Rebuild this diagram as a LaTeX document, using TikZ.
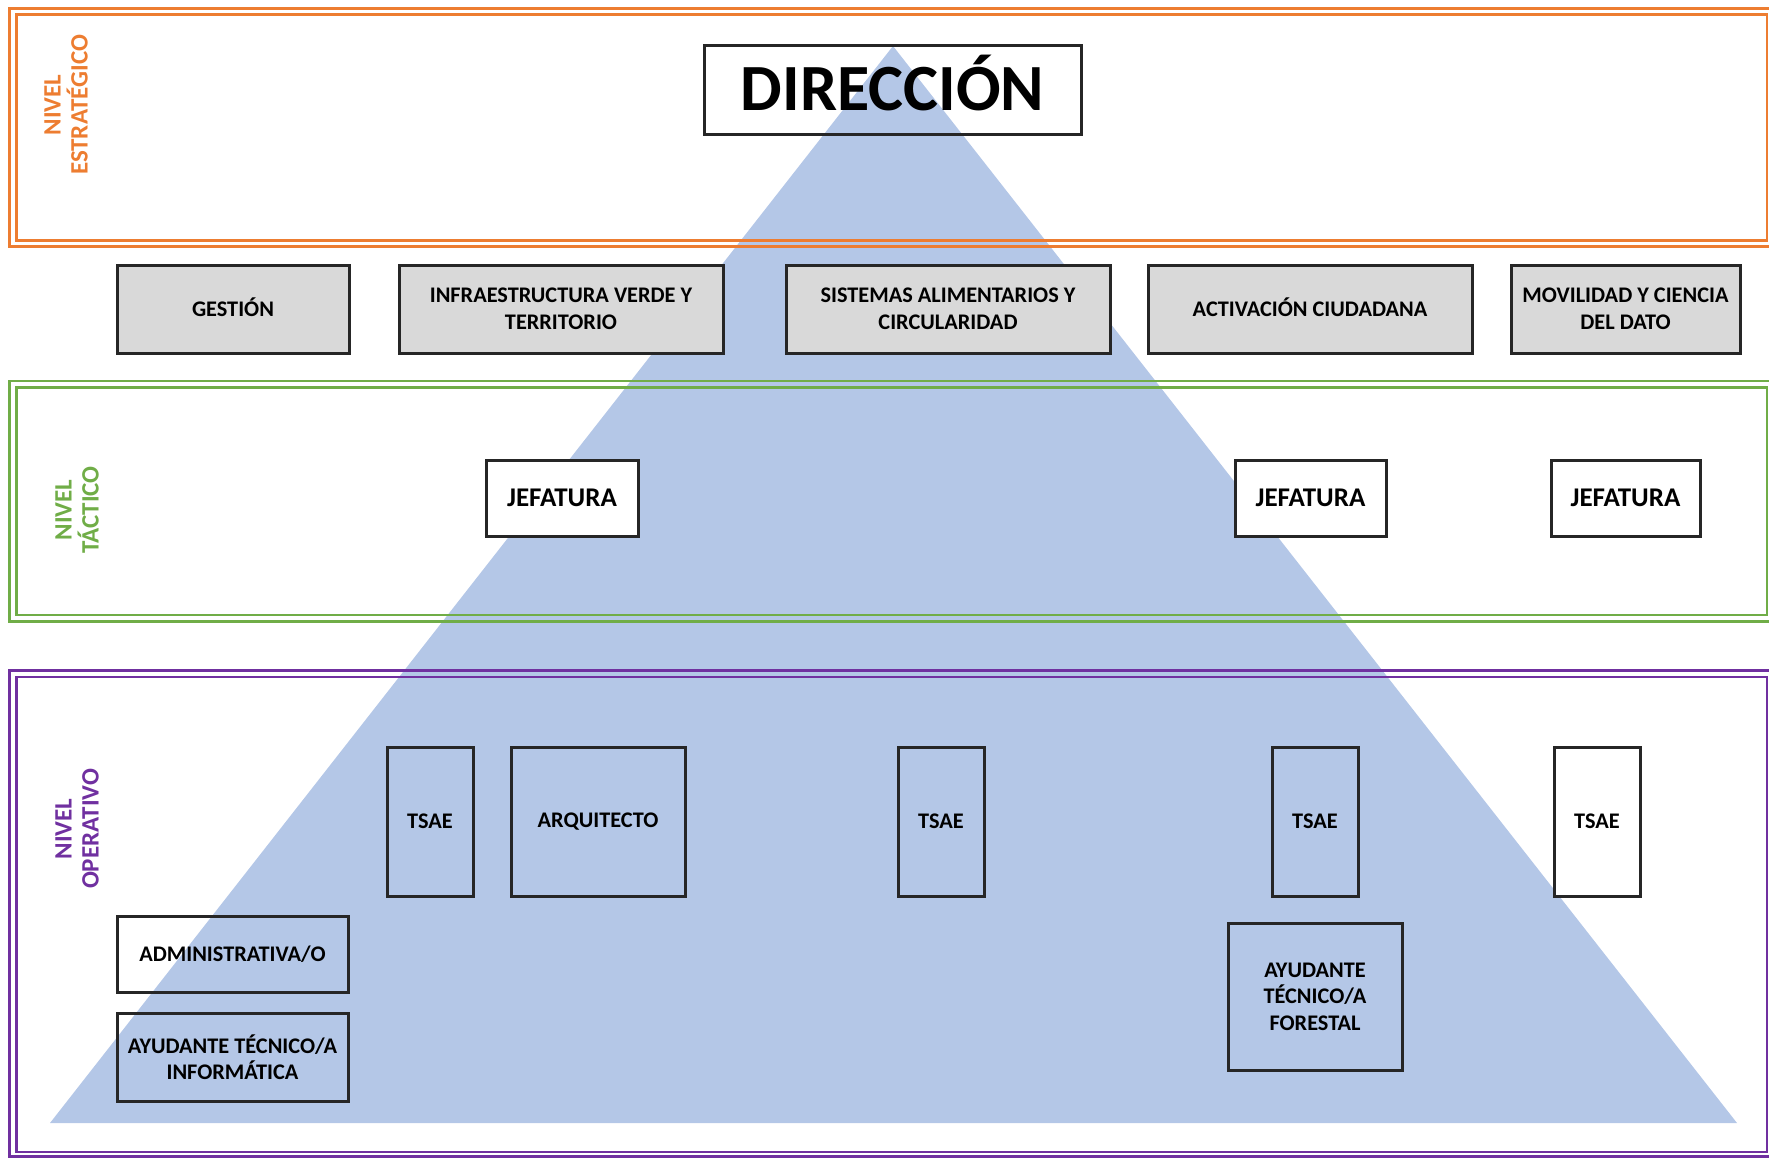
\documentclass[tikz,border=0pt]{standalone}
\usepackage{fontspec}
\setmainfont{Carlito}
\usetikzlibrary{positioning}

\definecolor{strategic}{HTML}{ED7D31}
\definecolor{tactical}{HTML}{70AD47}
\definecolor{operative}{HTML}{7030A0}
\definecolor{pyramid}{HTML}{B4C7E7}
\definecolor{areagrey}{HTML}{D9D9D9}

\tikzset{
  post/.style={draw=black!85, line width=3pt, inner sep=0pt, align=center,
    font=\fontsize{22.3}{26.5}\selectfont\bfseries},
  area/.style={post, fill=areagrey},
  head/.style={post, fill=white, font=\fontsize{27}{30}\selectfont\bfseries},
  capsonly/.style={text height=#1, text depth=0pt},
  levelline/.style={line width=2.2pt},
  levelname/.style={rotate=90, align=center, inner sep=0pt,
    font=\fontsize{25}{27}\selectfont\bfseries}
}

\begin{document}
\begin{tikzpicture}[x=1pt,y=-1pt]
  \useasboundingbox (0,0) rectangle (1769,1157);
  %%%%%%%%%%%%%%%%Pyramid%%%%%%%%%%%%%%
  \fill[pyramid] (893,46) -- (1737,1123) -- (50,1123) -- cycle;

  %%%%%%%%%%%%%%%%Levels%%%%%%%%%%%%%%
  \draw[levelline,strategic] (9.5,8.5) rectangle (1775,246.5);
  \draw[levelline,strategic] (16.5,14.5) rectangle (1767,240.5);
  \node[levelname,text=strategic] (estrategico) at (66,105) {NIVEL\\ESTRATÉGICO};

  \draw[levelline,tactical] (9.5,381) rectangle (1775,621.5);
  \draw[levelline,tactical] (16.5,387.5) rectangle (1767,615);
  \node[levelname,text=tactical] (tactico) at (77,510) {NIVEL\\TÁCTICO};

  \draw[levelline,operative] (9.5,670.5) rectangle (1775,1156.5);
  \draw[levelline,operative] (16.5,677) rectangle (1767,1152);
  \node[levelname,text=operative] (operativo) at (77,829) {NIVEL\\OPERATIVO};

  %%%%%%%%%%%%%%%%Direction%%%%%%%%%%%%%%
  \node[post, capsonly=42.5pt, minimum width=377pt, minimum height=89pt,
    font=\fontsize{66}{70}\selectfont\bfseries] (direccion) at (892.5,89.5) {DIRECCIÓN};

  %%%%%%%%%%%%%%%%Areas%%%%%%%%%%%%%%
  \node[area, capsonly=14.4pt, minimum width=232pt, minimum height=88pt] (gestion) at (233,309) {GESTIÓN};
  \node[area, minimum width=324pt, minimum height=88pt] (infra) at (561,309) {INFRAESTRUCTURA VERDE Y\\TERRITORIO};
  \node[area, minimum width=324pt, minimum height=88pt] (sistemas) at (948,309) {SISTEMAS ALIMENTARIOS Y\\CIRCULARIDAD};
  \node[area, capsonly=14.4pt, minimum width=324pt, minimum height=88pt] (activacion) at (1310,309) {ACTIVACIÓN CIUDADANA};
  \node[area, minimum width=229pt, minimum height=88pt] (movilidad) at (1625.5,309) {MOVILIDAD Y CIENCIA\\DEL DATO};

  %%%%%%%%%%%%%%%%Heads%%%%%%%%%%%%%%
  \node[head, minimum width=152pt, minimum height=76pt] (jefinfra) at (562,498) {JEFATURA};
  \node[head, minimum width=151pt, minimum height=76pt] (jefactiv) at (1310.5,498) {JEFATURA};
  \node[head, minimum width=149pt, minimum height=76pt] (jefmovil) at (1625.5,498) {JEFATURA};

  %%%%%%%%%%%%%%%%Staff%%%%%%%%%%%%%%
  \node[post, minimum width=86pt, minimum height=149pt] (tsaeinfra) at (430,821.5) {TSAE};
  \node[post, minimum width=174pt, minimum height=149pt] (arquitecto) at (598,821.5) {ARQUITECTO};
  \node[post, minimum width=86pt, minimum height=149pt] (tsaesist) at (941,821.5) {TSAE};
  \node[post, minimum width=86pt, minimum height=149pt] (tsaeactiv) at (1315,821.5) {TSAE};
  \node[post, fill=white, minimum width=86pt, minimum height=149pt] (tsaemovil) at (1597,821.5) {TSAE};

  \node[post, minimum width=231pt, minimum height=76pt] (admin) at (232.5,954) {ADMINISTRATIVA/O};
  \node[post, minimum width=231pt, minimum height=88pt] (ayudinfo) at (232.5,1057) {AYUDANTE TÉCNICO/A\\INFORMÁTICA};
  \node[post, minimum width=174pt, minimum height=147pt] (ayudforest) at (1315,996.5) {AYUDANTE\\TÉCNICO/A\\FORESTAL};
\end{tikzpicture}
\end{document}
